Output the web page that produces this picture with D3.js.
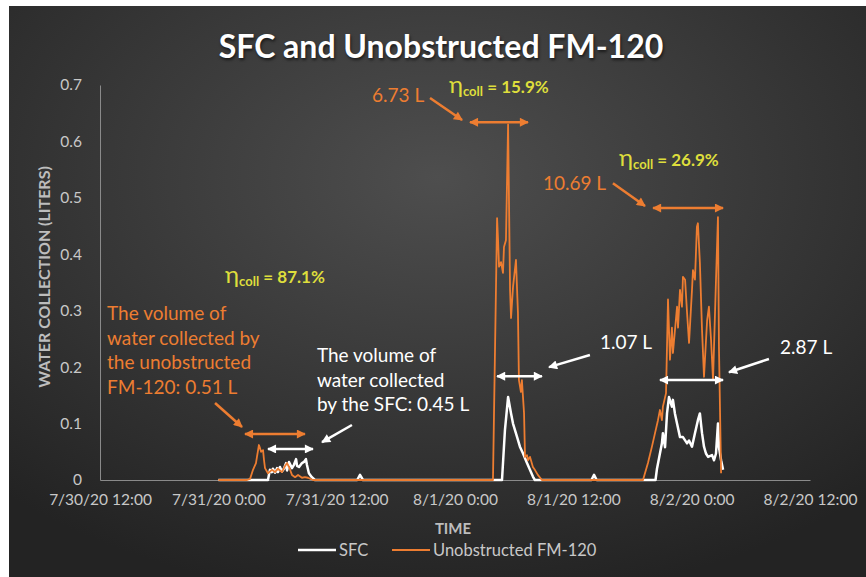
<!DOCTYPE html>
<html>
<head>
<meta charset="utf-8">
<script src="https://cdn.jsdelivr.net/npm/d3@7"></script>
<style>
  html, body { margin: 0; padding: 0; background: #ffffff; }
  #chart { width: 866px; height: 577px; }
  text { font-family: Lato, "Open Sans", sans-serif; }
</style>
</head>
<body>
<div id="chart"></div>
<script>
// x tick labels (every 12 h)
const tickTimes = ["7/30/20 12:00", "7/31/20 0:00", "7/31/20 12:00", "8/1/20 0:00", "8/1/20 12:00", "8/2/20 0:00", "8/2/20 12:00"];
const yTicks = [0, 0.1, 0.2, 0.3, 0.4, 0.5, 0.6, 0.7];

// SFC series
const sfcTimes = [
  "7/31/20 0:00", "7/31/20 5:02", "7/31/20 5:14", "7/31/20 5:26", "7/31/20 5:32", "7/31/20 5:45", "7/31/20 5:57",
  "7/31/20 6:03", "7/31/20 6:15", "7/31/20 6:27", "7/31/20 6:39", "7/31/20 6:52", "7/31/20 6:58", "7/31/20 7:10",
  "7/31/20 7:28", "7/31/20 7:40", "7/31/20 7:53", "7/31/20 7:59", "7/31/20 8:11", "7/31/20 8:29", "7/31/20 8:41",
  "7/31/20 8:53", "7/31/20 8:59", "7/31/20 9:11", "7/31/20 9:29", "7/31/20 9:48",
  "7/31/20 14:05", "7/31/20 14:22", "7/31/20 14:40",
  "8/1/20 4:46", "8/1/20 5:04", "8/1/20 5:23", "8/1/20 5:41", "8/1/20 5:53", "8/1/20 6:17", "8/1/20 6:35",
  "8/1/20 6:54", "8/1/20 7:18", "8/1/20 7:36", "8/1/20 7:54", "8/1/20 8:06",
  "8/1/20 13:50", "8/1/20 14:06", "8/1/20 14:22",
  "8/1/20 20:20", "8/1/20 20:29", "8/1/20 20:59", "8/1/20 21:05", "8/1/20 21:18", "8/1/20 21:30", "8/1/20 21:42",
  "8/1/20 22:00", "8/1/20 22:06", "8/1/20 22:18", "8/1/20 22:31", "8/1/20 22:49", "8/1/20 23:07", "8/1/20 23:32",
  "8/1/20 23:44", "8/2/20 0:02", "8/2/20 0:20", "8/2/20 0:38", "8/2/20 0:50", "8/2/20 1:03", "8/2/20 1:15",
  "8/2/20 1:27", "8/2/20 1:40", "8/2/20 2:04", "8/2/20 2:16", "8/2/20 2:28", "8/2/20 2:40", "8/2/20 2:46",
  "8/2/20 2:59", "8/2/20 3:11"
];
const sfcValues = [
  0, 0, 0.018, 0.014, 0.02, 0.013, 0.021,
  0.014, 0.023, 0.015, 0.02, 0.03, 0.017, 0.032,
  0.021, 0.027, 0.037, 0.025, 0.023, 0.03, 0.032,
  0.037, 0.027, 0.012, 0.005, 0,
  0, 0.009, 0,
  0, 0.089, 0.147, 0.118, 0.1, 0.077, 0.059,
  0.047, 0.03, 0.018, 0.006, 0,
  0, 0.009, 0,
  0, 0.02, 0.065, 0.083, 0.058, 0.118, 0.147,
  0.13, 0.142, 0.118, 0.1, 0.076, 0.076, 0.065,
  0.07, 0.059, 0.083, 0.106, 0.118, 0.083, 0.059,
  0.047, 0.041, 0.044, 0.035, 0.047, 0.1, 0.058,
  0.035, 0.018
];

// Unobstructed FM-120 series
const fmTimes = [
  "7/31/20 0:00", "7/31/20 2:55", "7/31/20 3:13", "7/31/20 3:31", "7/31/20 3:49", "7/31/20 3:55", "7/31/20 4:07",
  "7/31/20 4:13", "7/31/20 4:20", "7/31/20 4:32", "7/31/20 4:38", "7/31/20 4:44", "7/31/20 5:02", "7/31/20 5:26",
  "7/31/20 5:45", "7/31/20 6:03", "7/31/20 6:27", "7/31/20 6:46", "7/31/20 6:58", "7/31/20 7:10", "7/31/20 7:28",
  "7/31/20 7:47", "7/31/20 8:05", "7/31/20 8:29", "7/31/20 8:47", "7/31/20 9:05", "7/31/20 9:36",
  "8/1/20 3:51", "8/1/20 4:16", "8/1/20 4:22", "8/1/20 4:28", "8/1/20 4:40", "8/1/20 4:52", "8/1/20 4:58",
  "8/1/20 5:10", "8/1/20 5:23", "8/1/20 5:35", "8/1/20 5:41", "8/1/20 5:53", "8/1/20 6:11", "8/1/20 6:23",
  "8/1/20 6:29", "8/1/20 6:41", "8/1/20 6:47", "8/1/20 7:00", "8/1/20 7:06", "8/1/20 7:18", "8/1/20 7:24",
  "8/1/20 7:36", "8/1/20 7:54", "8/1/20 8:06", "8/1/20 8:24", "8/1/20 8:49",
  "8/1/20 19:04", "8/1/20 19:34", "8/1/20 19:59", "8/1/20 20:17", "8/1/20 20:35", "8/1/20 20:47", "8/1/20 20:59",
  "8/1/20 21:05", "8/1/20 21:24", "8/1/20 21:36", "8/1/20 21:48", "8/1/20 22:00", "8/1/20 22:06", "8/1/20 22:31",
  "8/1/20 22:37", "8/1/20 22:49", "8/1/20 23:01", "8/1/20 23:07", "8/1/20 23:20", "8/1/20 23:32", "8/1/20 23:44",
  "8/2/20 0:02", "8/2/20 0:08", "8/2/20 0:20", "8/2/20 0:32", "8/2/20 0:38", "8/2/20 0:50", "8/2/20 1:03",
  "8/2/20 1:15", "8/2/20 1:34", "8/2/20 1:45", "8/2/20 1:58", "8/2/20 2:10", "8/2/20 2:28", "8/2/20 2:40",
  "8/2/20 2:46", "8/2/20 2:59"
];
const fmValues = [
  0, 0, 0.002, 0.018, 0.03, 0.041, 0.062,
  0.057, 0.05, 0.053, 0.035, 0.021, 0.012, 0.018,
  0.014, 0.02, 0.014, 0.025, 0.03, 0.023, 0.009,
  0.005, 0.009, 0.004, 0.005, 0.004, 0,
  0, 0.464, 0.425, 0.378, 0.386, 0.367, 0.413,
  0.425, 0.63, 0.337, 0.287, 0.342, 0.39, 0.296,
  0.177, 0.156, 0.177, 0.119, 0.041, 0.044, 0.035,
  0.041, 0.023, 0.018, 0.009, 0,
  0, 0.03, 0.06, 0.083, 0.106, 0.124, 0.106,
  0.13, 0.154, 0.32, 0.213, 0.27, 0.225, 0.307,
  0.27, 0.337, 0.307, 0.36, 0.355, 0.296, 0.243,
  0.337, 0.372, 0.355, 0.449, 0.455, 0.385, 0.266,
  0.183, 0.283, 0.307, 0.248, 0.177, 0.355, 0.466,
  0.236, 0.012
];

// annotation arrows: [colour, from time, from value, to time, to value]
const doubleArrows = [
  ["orange", "7/31/20 2:42", 0.0815, "7/31/20 8:47", 0.0815],
  ["white", "7/31/20 5:02", 0.055, "7/31/20 9:36", 0.055],
  ["orange", "8/1/20 1:31", 0.634, "8/1/20 7:24", 0.634],
  ["white", "8/1/20 4:16", 0.184, "8/1/20 8:49", 0.184],
  ["orange", "8/1/20 20:05", 0.482, "8/2/20 3:11", 0.482],
  ["white", "8/1/20 20:47", 0.177, "8/2/20 3:11", 0.177]
];
const singleArrows = [
  ["orange", "7/30/20 23:40", 0.1365, "7/31/20 2:24", 0.094],
  ["white", "7/31/20 13:33", 0.0975, "7/31/20 10:31", 0.067],
  ["orange", "7/31/20 21:28", 0.677, "8/1/20 0:43", 0.638],
  ["white", "8/1/20 13:41", 0.2215, "8/1/20 9:32", 0.200],
  ["orange", "8/1/20 16:01", 0.526, "8/1/20 19:16", 0.4856],
  ["white", "8/2/20 7:50", 0.2144, "8/2/20 3:47", 0.191]
];
// text labels: [colour, time, value (baseline), lines]
const textLabels = [
  ["orange", "7/31/20 15:35", 0.670, ["6.73 L"]],
  ["orange", "8/1/20 8:55", 0.514, ["10.69 L"]],
  ["white", "8/1/20 14:42", 0.232, ["1.07 L"]],
  ["white", "8/2/20 8:58", 0.223, ["2.87 L"]],
  ["orange", "7/30/20 12:43", 0.2835, ["The volume of", "water collected by", "the unobstructed", "FM-120: 0.51 L"]],
  ["white", "7/31/20 10:00", 0.209, ["The volume of", "water collected", "by the SFC: 0.45 L"]]
];
// collection efficiency labels: [time, value (baseline), text]
const etaLabels = [
  ["7/31/20 23:23", 0.686, "= 15.9%"],
  ["8/1/20 16:38", 0.556, "= 26.9%"],
  ["7/31/20 0:41", 0.349, "= 87.1%"]
];

const colors = { orange: "#ed7d31", white: "#ffffff", yellow: "#dede3c" };
const parseTime = d3.timeParse("%m/%d/%y %H:%M");

const width = 866;
const height = 577;

const svg = d3.select("#chart").append("svg")
  .attr("width", width)
  .attr("height", height);

const defs = svg.append("defs");
const grad = defs.append("radialGradient")
  .attr("id", "bg")
  .attr("cx", "50%").attr("cy", "30%").attr("r", "75%");
grad.append("stop").attr("offset", "0%").attr("stop-color", "#4e4e4e");
grad.append("stop").attr("offset", "100%").attr("stop-color", "#232323");

["orange", "white"].forEach(c => {
  defs.append("marker")
    .attr("id", "head-" + c)
    .attr("viewBox", "0 0 10 10")
    .attr("refX", 9).attr("refY", 5)
    .attr("markerUnits", "userSpaceOnUse")
    .attr("markerWidth", 10).attr("markerHeight", 9)
    .attr("orient", "auto-start-reverse")
    .append("path")
    .attr("d", "M0,0 L10,5 L0,10 Z")
    .attr("fill", colors[c]);
});

svg.append("rect")
  .attr("x", 9).attr("y", 6)
  .attr("width", width - 9).attr("height", height - 6)
  .attr("fill", "url(#bg)");

const x = d3.scaleTime()
  .domain([parseTime(tickTimes[0]), parseTime(tickTimes[tickTimes.length - 1])])
  .range([100, 810]);

const y = d3.scaleLinear()
  .domain([0, 0.7])
  .range([480, 85]);

// title
svg.append("text")
  .attr("x", 441)
  .attr("y", 58)
  .attr("text-anchor", "middle")
  .attr("fill", "#ffffff")
  .attr("font-size", "32px")
  .attr("font-weight", "bold")
  .style("text-shadow", "1px 2px 3px rgba(0,0,0,0.6)")
  .text("SFC and Unobstructed FM-120");

// axes
const fmtTick = d3.timeFormat("%-m/%-d/%y %-H:%M");
const xAxis = svg.append("g")
  .attr("transform", `translate(0,${y(0)})`)
  .call(d3.axisBottom(x).tickValues(tickTimes.map(parseTime)).tickFormat(fmtTick).tickSize(0).tickPadding(14));
const yAxis = svg.append("g")
  .attr("transform", `translate(${x.range()[0]},0)`)
  .call(d3.axisLeft(y).tickValues(yTicks).tickFormat(d => d === 0 ? "0" : d3.format(".1f")(d)).tickSize(0).tickPadding(18));

[xAxis, yAxis].forEach(g => {
  g.select(".domain").attr("stroke", "#8a8a8a").attr("stroke-width", 1);
  g.selectAll("text")
    .attr("fill", "#c8c8c8")
    .attr("font-size", "15.5px")
    .attr("font-family", "Lato, sans-serif");
});

svg.append("text")
  .attr("transform", "translate(50,277) rotate(-90)")
  .attr("text-anchor", "middle")
  .attr("fill", "#bdbdbd")
  .attr("font-size", "16px")
  .attr("font-weight", "bold")
  .text("WATER COLLECTION (LITERS)");

svg.append("text")
  .attr("x", 453)
  .attr("y", 534)
  .attr("text-anchor", "middle")
  .attr("fill", "#bdbdbd")
  .attr("font-size", "15px")
  .attr("font-weight", "bold")
  .text("TIME");

// series
const line = d3.line()
  .x(d => x(d[0]))
  .y(d => y(d[1]));

const sfcData = sfcTimes.map((t, i) => [parseTime(t), sfcValues[i]]);
const fmData = fmTimes.map((t, i) => [parseTime(t), fmValues[i]]);

svg.append("path")
  .datum(sfcData)
  .attr("d", line)
  .attr("fill", "none")
  .attr("stroke", colors.white)
  .attr("stroke-width", 2.5)
  .attr("stroke-linejoin", "round");

svg.append("path")
  .datum(fmData)
  .attr("d", line)
  .attr("fill", "none")
  .attr("stroke", colors.orange)
  .attr("stroke-width", 1.8)
  .attr("stroke-linejoin", "round");

// arrows
svg.selectAll(".darrow")
  .data(doubleArrows)
  .join("line")
  .attr("x1", d => x(parseTime(d[1])))
  .attr("y1", d => y(d[2]))
  .attr("x2", d => x(parseTime(d[3])))
  .attr("y2", d => y(d[4]))
  .attr("stroke", d => colors[d[0]])
  .attr("stroke-width", 2.5)
  .attr("marker-start", d => `url(#head-${d[0]})`)
  .attr("marker-end", d => `url(#head-${d[0]})`);

svg.selectAll(".sarrow")
  .data(singleArrows)
  .join("line")
  .attr("x1", d => x(parseTime(d[1])))
  .attr("y1", d => y(d[2]))
  .attr("x2", d => x(parseTime(d[3])))
  .attr("y2", d => y(d[4]))
  .attr("stroke", d => colors[d[0]])
  .attr("stroke-width", 2.5)
  .attr("marker-end", d => `url(#head-${d[0]})`);

// text labels
const labels = svg.selectAll(".label")
  .data(textLabels)
  .join("text")
  .attr("fill", d => colors[d[0]])
  .attr("font-size", "19px")
  .attr("x", d => x(parseTime(d[1])))
  .attr("y", d => y(d[2]));
labels.selectAll("tspan")
  .data(d => d[3].map(s => [s, x(parseTime(d[1]))]))
  .join("tspan")
  .attr("x", d => d[1])
  .attr("dy", (d, i) => i === 0 ? 0 : 24.5)
  .text(d => d[0]);

const eta = svg.selectAll(".eta")
  .data(etaLabels)
  .join("text")
  .attr("fill", colors.yellow)
  .attr("font-weight", "bold")
  .attr("x", d => x(parseTime(d[0])))
  .attr("y", d => y(d[1]));
eta.append("tspan").attr("font-size", "24px").attr("font-weight", "normal").text("η");
eta.append("tspan").attr("font-size", "13px").attr("dy", 3).text("coll");
eta.append("tspan").attr("font-size", "17px").attr("dy", -3).text(d => " " + d[2]);

// legend
const legendItems = [["white", "SFC", 298], ["orange", "Unobstructed FM-120", 392]];
const legend = svg.append("g");
legendItems.forEach(([c, name, lx]) => {
  legend.append("line")
    .attr("x1", lx).attr("x2", lx + 38)
    .attr("y1", 550).attr("y2", 550)
    .attr("stroke", colors[c])
    .attr("stroke-width", c === "white" ? 2.5 : 2);
  legend.append("text")
    .attr("x", lx + 41)
    .attr("y", 556)
    .attr("fill", "#c8c8c8")
    .attr("font-size", "16.5px")
    .text(name);
});
</script>
</body>
</html>
